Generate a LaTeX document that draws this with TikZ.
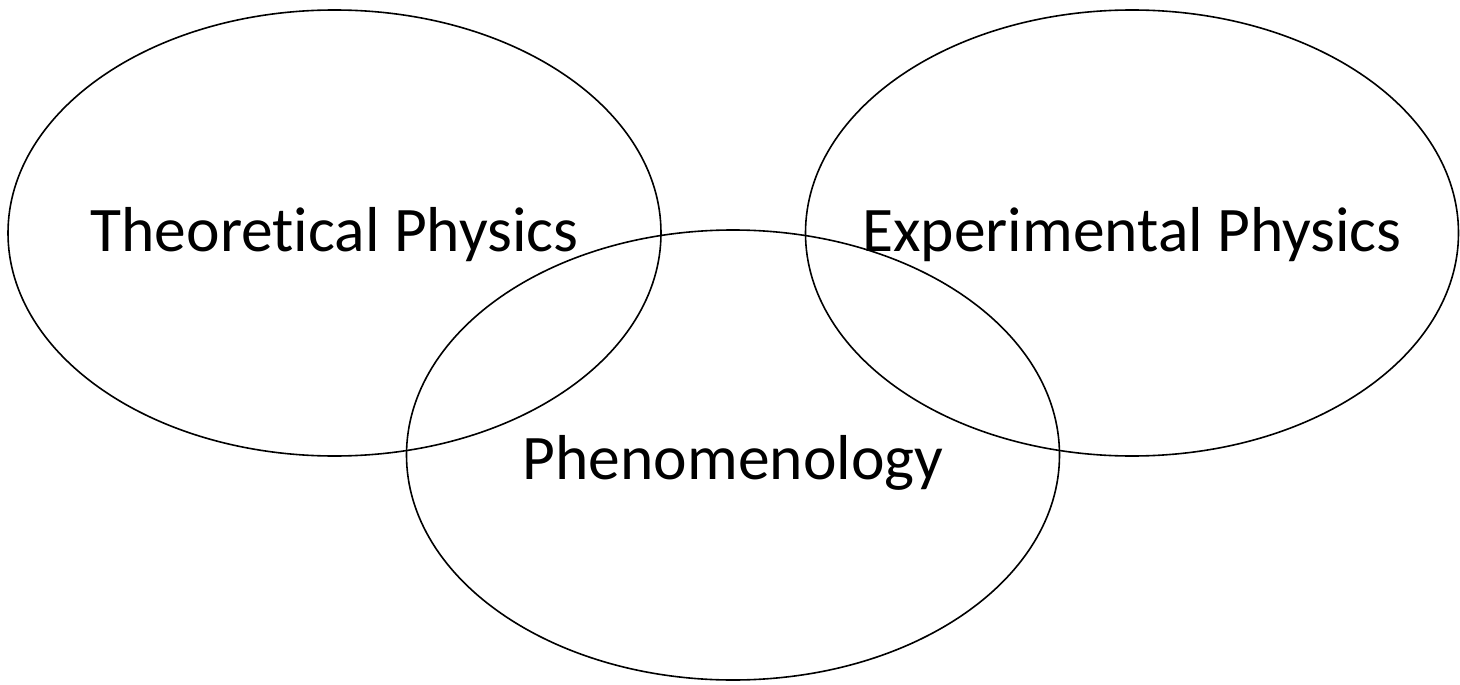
\documentclass[tikz,border=0pt]{standalone}
\usepackage{fontspec}
\setmainfont[Ligatures=NoCommon]{Carlito}
\usetikzlibrary{shapes.geometric}
\begin{document}
\begin{tikzpicture}[
    x=1pt, y=-1pt,
    field/.style={ellipse, draw, line width=1.6pt, inner sep=0pt, minimum width=653pt, minimum height=446pt},
    fieldtext/.style={font=\fontsize{63.5}{76}\selectfont}
]
\useasboundingbox (0,0) rectangle (1460,685);

% Fields
\node[field] (theo) at (334.5, 233) {};
\node[field] (expt) at (1132, 233) {};
\node[field, minimum height=450pt] (pheno) at (733, 455) {};

% Labels
\node[fieldtext] (theolabel) at ([yshift=-2pt]theo.center) {Theoretical Physics};
\node[fieldtext] (exptlabel) at ([yshift=-2pt]expt.center) {Experimental Physics};
\node[fieldtext] (phenolabel) at ([yshift=-8pt]pheno.center) {Phenomenology};

\end{tikzpicture}
\end{document}
